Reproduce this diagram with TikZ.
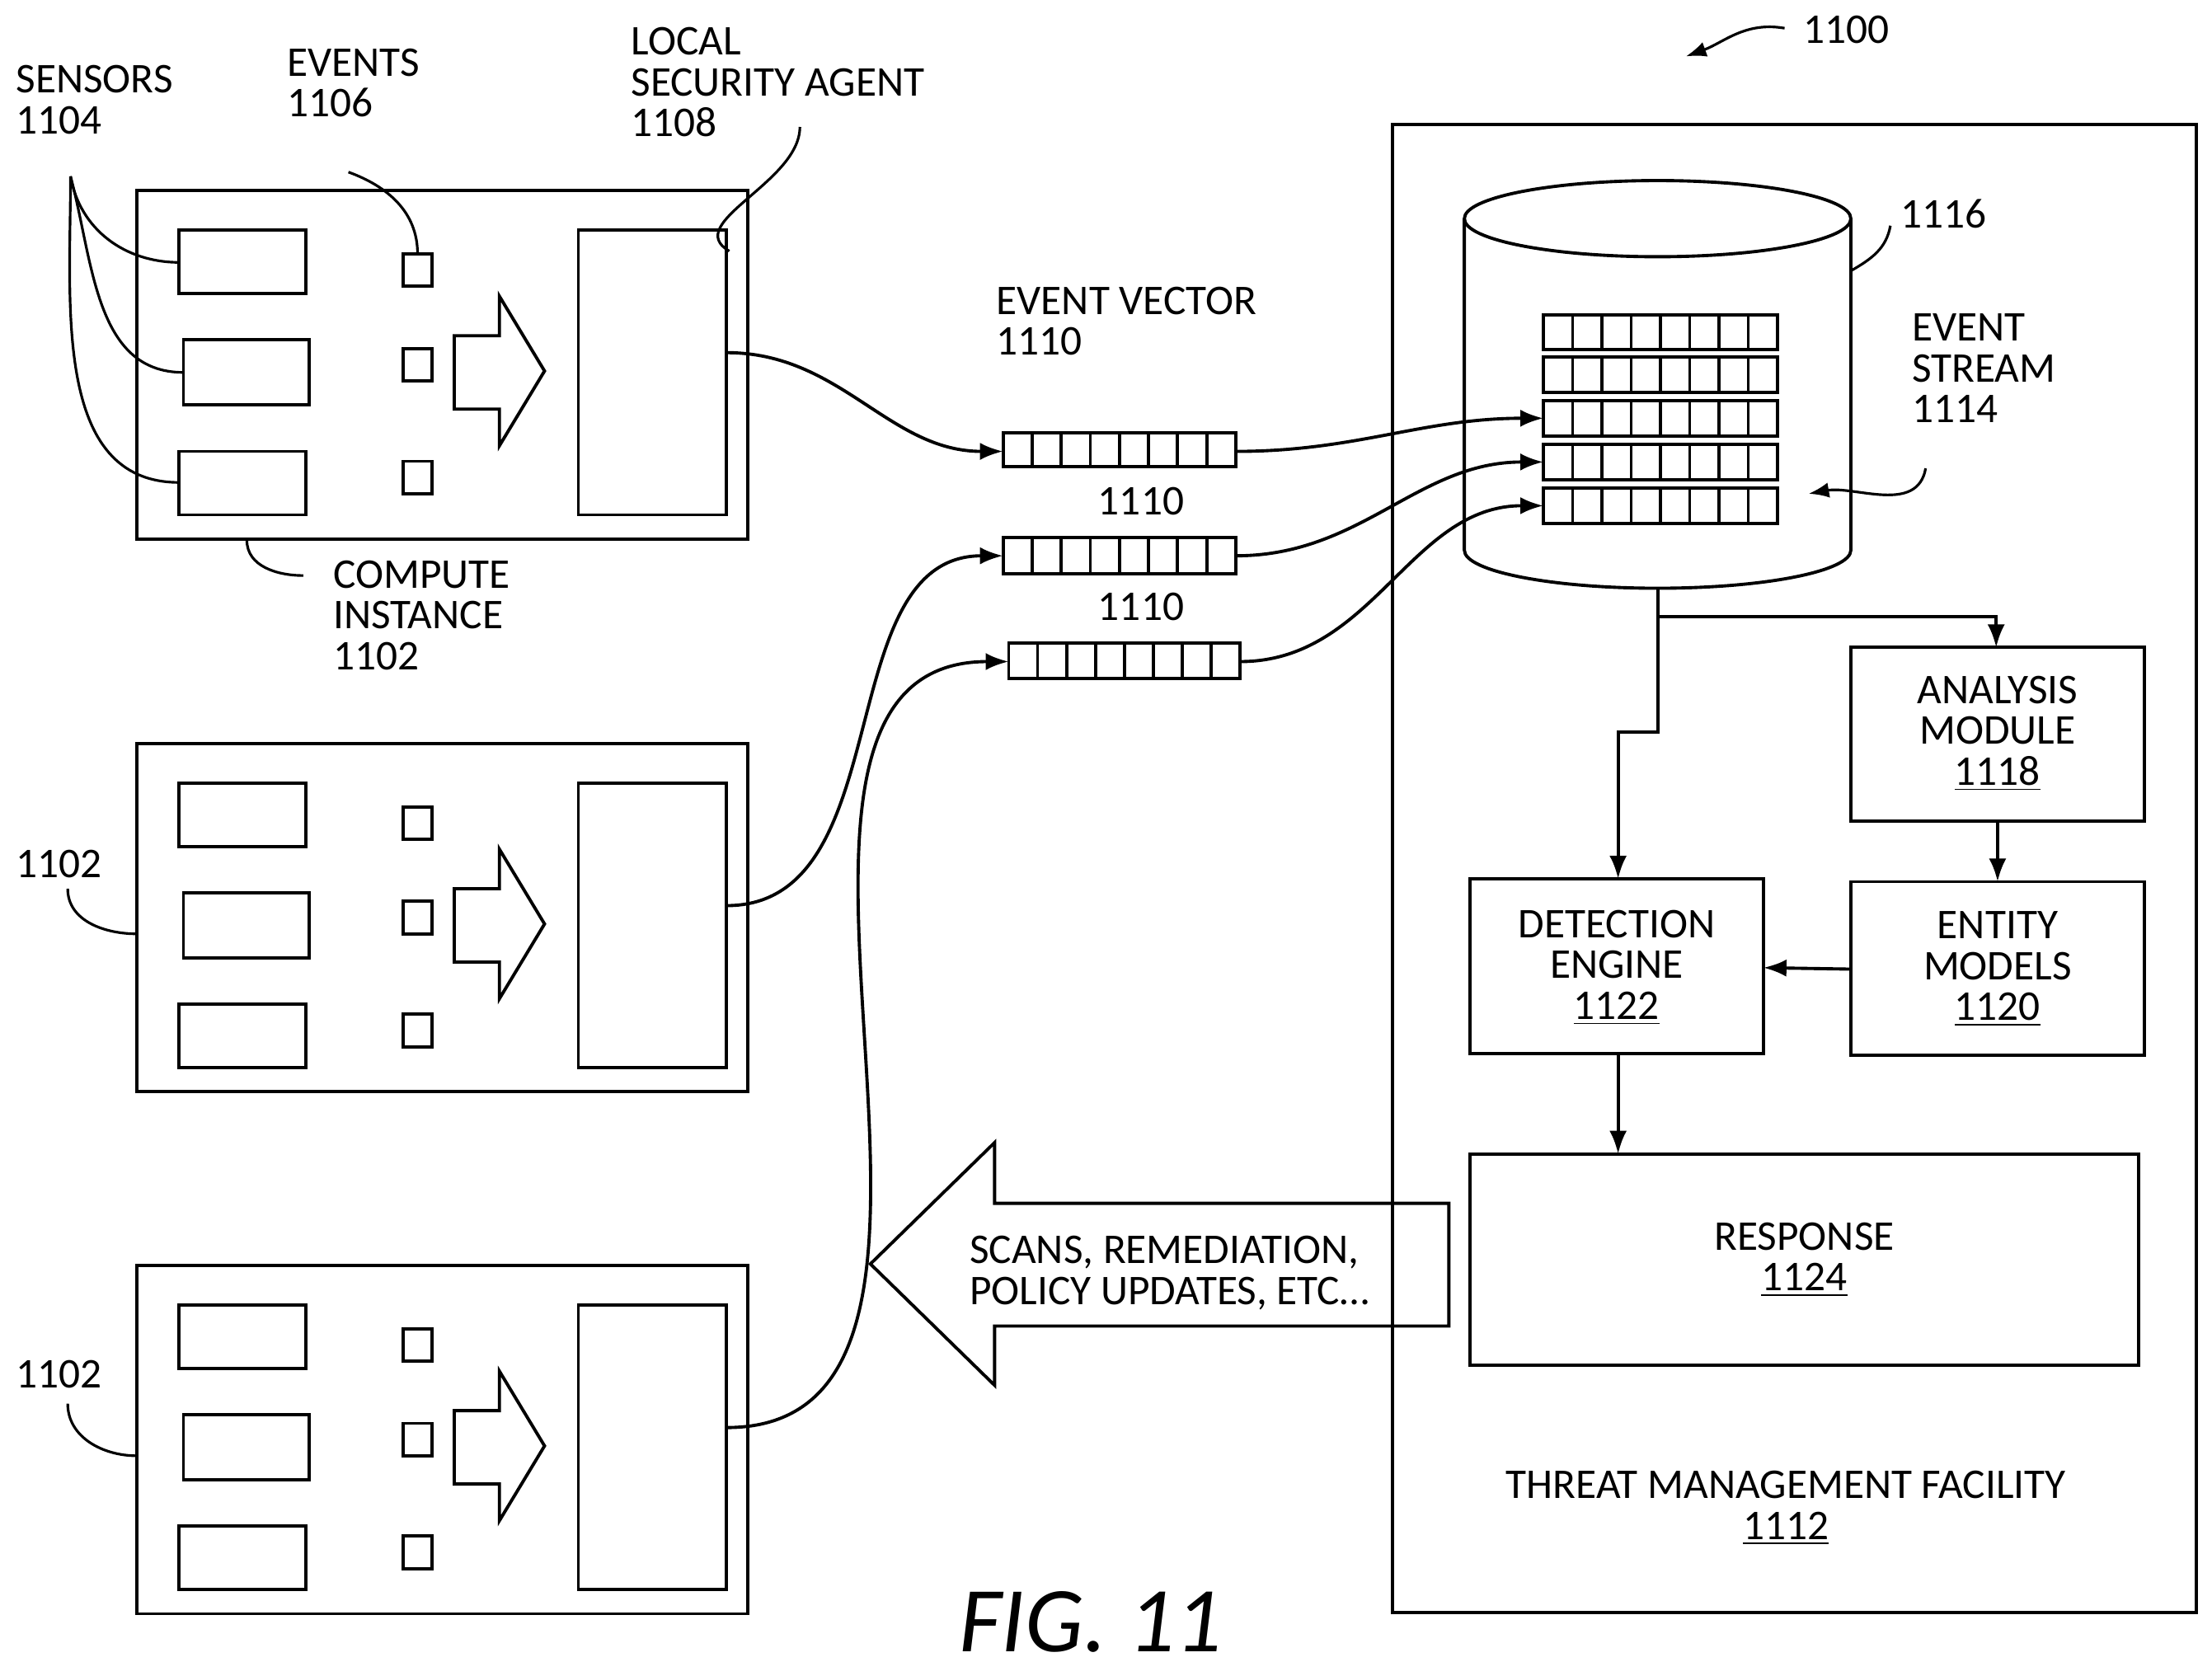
\documentclass[tikz,border=0pt]{standalone}
\usepackage{fontspec}
\setmainfont{Carlito}
\usetikzlibrary{arrows.meta,shapes.geometric}
\tikzset{>=Latex,
  line/.style={line width=1.1pt},
  lbl/.style={align=left,anchor=north west,inner sep=0pt,font=\fontsize{14.6}{14.1}\selectfont},
  ctr/.style={align=center,inner sep=0pt,font=\fontsize{14.6}{14.1}\selectfont},
  lead/.style={line width=0.9pt},
  flow/.style={line width=1.1pt,->}}
\newcommand{\evec}[4]{% x1,y1,x2,y2 : a row of 8 cells
  \draw[line] (#1,#2) rectangle (#3,#4);
  \foreach \i in {1,...,7}
    \draw[line] ({#1+\i*(#3-#1)/8},#2) -- ({#1+\i*(#3-#1)/8},#4);}
\begin{document}
\begin{tikzpicture}[x=0.01711cm,y=-0.01711cm]
  \useasboundingbox (0,0) rectangle (1568,1187.6);

  % COMPUTE INSTANCES
  \foreach \o/\n in {0/a,392/b,762/c}{
    \begin{scope}[shift={(0,\o)}]
      \draw[line] (97,135) rectangle (530,382);
      \draw[line] (127,163) rectangle (217,208);
      \draw[line] (130,241) rectangle (219,287);
      \draw[line] (127,320) rectangle (217,365);
      \foreach \y in {180,247,327}
        \draw[line] (286,\y) rectangle (306,\y+23);
      \draw[line] (322,238) -- (354,238) -- (354,210) -- (386,263)
        -- (354,316) -- (354,290) -- (322,290) -- cycle;
      \draw[line] (410,163) rectangle (515,365);
      \coordinate (ag\n) at (515,250);
      \coordinate (cw\n) at (97,270);
      \coordinate (sa\n) at (127,186);
      \coordinate (sb\n) at (130,264);
      \coordinate (sc\n) at (127,342);
    \end{scope}}

  % THREAT MANAGEMENT FACILITY
  \draw[line] (987,88) rectangle (1557,1143);
  \draw[line] (1038,155) -- (1038,390) arc[start angle=180,end angle=360,x radius=137,y radius=-27] -- (1312,155);
  \draw[line] (1175,155) ellipse[x radius=137,y radius=27];
  \foreach \y/\n in {223/1,253/2,284/3,315/4,346/5}{
    \evec{1094}{\y}{1260}{\y+25}
    \coordinate (row\n) at (1094,\y+12.5);}

  % EVENT VECTORS
  \evec{711}{307}{876}{331}
  \evec{711}{381}{876}{407}
  \evec{715}{456}{879}{481}
  \coordinate (va) at (711,320); \coordinate (vaR) at (876,320);
  \coordinate (vb) at (711,394); \coordinate (vbR) at (876,394);
  \coordinate (vc) at (715,469); \coordinate (vcR) at (879,469);
  \draw[flow] (aga) to[out=0,in=180] (va);
  \draw[flow] (agb) to[out=0,in=180] (vb);
  \draw[flow] (agc) to[out=0,in=180] (vc);
  \draw[flow] (vaR) to[out=0,in=180] (row3);
  \draw[flow] (vbR) to[out=0,in=180] (row4);
  \draw[flow] (vcR) to[out=0,in=180] (row5);

  % MODULES
  \draw[line] (1312,459) rectangle (1520,582);
  \node[ctr] (ana) at (1416,520) {ANALYSIS\\MODULE\\\underline{1118}};
  \draw[line] (1312,625) rectangle (1520,748);
  \node[ctr] (ent) at (1416,687) {ENTITY\\MODELS\\\underline{1120}};
  \draw[line] (1042,623) rectangle (1250,747);
  \node[ctr] (det) at (1146,686) {DETECTION\\ENGINE\\\underline{1122}};
  \draw[line] (1042,818) rectangle (1516,968);
  \node[ctr] (resp) at (1279,893) {RESPONSE\\\underline{1124}};
  \coordinate (cyl) at (1175,417);
  \coordinate (split) at (1175,437);
  \draw[line] (cyl) -- (split);
  \draw[flow] (split) -- (1415,437) -- (1415,459);
  \draw[flow] (split) -- (1175,519) -- (1147,519) -- (1147,623);
  \draw[flow] (1416,582) -- (1416,625);
  \draw[flow] (1312,687) -- (1250,686);
  \draw[flow] (1147,747) -- (1147,818);

  % BIG ARROW
  \draw[line] (1027,853) -- (705,853) -- (705,810) -- (617,896)
    -- (705,982) -- (705,940) -- (1027,940) -- cycle;
  \node[lbl] (scan) at (687,876) {SCANS, REMEDIATION,\\POLICY UPDATES, ETC\ldots};

  % LABELS AND LEADERS
  \node[lbl] (sens) at (11,46) {SENSORS\\1104};
  \node[lbl] (evt) at (203,34) {EVENTS\\1106};
  \node[lbl] (lsa) at (447,19) {LOCAL\\SECURITY AGENT\\1108};
  \node[lbl] (ci) at (236,397) {COMPUTE\\INSTANCE\\1102};
  \node[lbl] (evl) at (706,203) {EVENT VECTOR\\1110};
  \node[lbl] (v2) at (778,345) {1110};
  \node[lbl] (v3) at (778,420) {1110};
  \node[lbl] (cid2) at (11,602) {1102};
  \node[lbl] (cid3) at (11,964) {1102};
  \node[lbl] (cyn) at (1347,141) {1116};
  \node[lbl] (es) at (1355,222) {EVENT\\STREAM\\1114};
  \node[lbl] (fig) at (1278,11) {1100};
  \node[ctr] (tmf) at (1266,1069) {THREAT MANAGEMENT FACILITY\\\underline{1112}};
  \node[inner sep=0pt,font=\fontsize{32}{34}\selectfont\itshape] (figno) at (773,1150) {FIG. 11};
  \coordinate (s0) at (50,125);
  \draw[lead] (s0) to[out=-80,in=180] (saa);
  \draw[lead] (s0) to[out=-75,in=180] (sba);
  \draw[lead] (s0) to[out=-90,in=180] (sca);
  \draw[lead] (247,122) to[out=-20,in=90] (296,180);
  \draw[lead] (567,90) to[out=-90,in=150] (517,178);
  \draw[lead] (175,383) to[out=-90,in=180] (215,408);
  \draw[lead] (48,630) to[out=-90,in=180] (cwb);
  \draw[lead] (48,995) to[out=-90,in=180] (cwc);
  \draw[lead] (1340,160) to[out=-100,in=30] (1312,192);
  \draw[flow,lead] (1365,332) to[out=-100,in=10] (1282,350);
  \draw[flow,lead] (1265,20) to[out=170,in=20] (1195,40);
\end{tikzpicture}
\end{document}
